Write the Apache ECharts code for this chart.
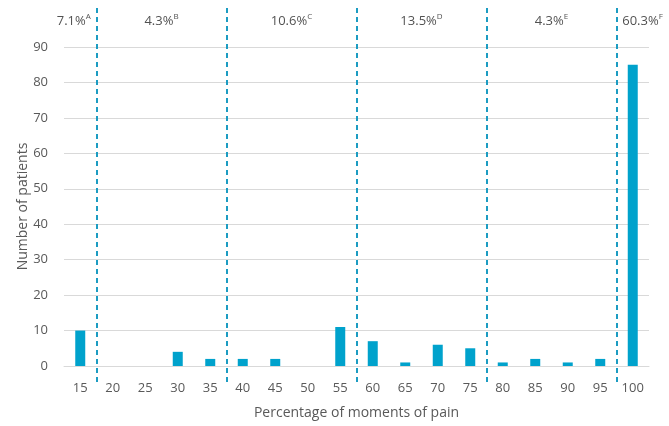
<!DOCTYPE html>
<html>
<head>
<meta charset="utf-8">
<script src="https://cdn.jsdelivr.net/npm/echarts@6/dist/echarts.min.js"></script>
<style>
  html, body { margin: 0; padding: 0; background: #fff; }
  #chart { width: 669px; height: 426px; }
</style>
</head>
<body>
<div id="chart"></div>
<script>
// percentage of moments of pain -> number of patients
var categories = ["15", "20", "25", "30", "35", "40", "45", "50", "55", "60", "65", "70", "75", "80", "85", "90", "95", "100"];
var patients = [10, 0, 0, 4, 2, 2, 2, 0, 11, 7, 1, 6, 5, 1, 2, 1, 2, 85];
var yTicks = [0, 10, 20, 30, 40, 50, 60, 70, 80, 90];

// group borders (between category indexes) and the group shares
var groupBorders = [0.5, 4.5, 8.5, 12.5, 16.5];
var groupCenters = [-0.2, 2.5, 6.5, 10.5, 14.5, 17.3];
var groupShares = ["7.1%", "4.3%", "10.6%", "13.5%", "4.3%", "60.3%"];
var groupLetters = ["A", "B", "C", "D", "E", "F"];

var font = "Open Sans";
var textGray = "#595959";
var blue = "#00a2cc";
var dashBlue = "#1c9cc2";

var myChart = echarts.init(document.getElementById("chart"));

var option = {
  animation: false,
  textStyle: { fontFamily: font },
  grid: [
    { left: 64, right: 20, top: 47, bottom: 60 },
    { left: 64, right: 20, top: 8, bottom: 44 }
  ],
  xAxis: [
    {
      type: "category",
      gridIndex: 0,
      data: categories,
      name: "Percentage of moments of pain",
      nameLocation: "middle",
      nameGap: 40,
      nameMoveOverlap: false,
      nameTextStyle: { color: textGray, fontSize: 14, fontFamily: font },
      axisLine: { lineStyle: { color: "#d9d9d9", width: 1 } },
      axisTick: { show: false },
      axisLabel: { color: textGray, fontSize: 13, margin: 16, fontFamily: font }
    },
    {
      type: "value",
      gridIndex: 1,
      min: -0.5,
      max: categories.length - 0.5,
      show: false
    }
  ],
  yAxis: [
    {
      type: "value",
      gridIndex: 0,
      min: yTicks[0],
      max: yTicks[yTicks.length - 1],
      interval: 10,
      name: "Number of patients",
      nameLocation: "middle",
      nameGap: 34,
      nameMoveOverlap: false,
      nameTextStyle: { color: textGray, fontSize: 14, fontFamily: font },
      axisLine: { show: false },
      axisTick: { show: false },
      axisLabel: { color: textGray, fontSize: 13, margin: 16, fontFamily: font },
      splitLine: { lineStyle: { color: "#d9d9d9", width: 1 } }
    },
    {
      type: "value",
      gridIndex: 1,
      min: 0,
      max: 100,
      show: false
    }
  ],
  series: [
    {
      type: "bar",
      xAxisIndex: 0,
      yAxisIndex: 0,
      data: patients,
      barWidth: 10,
      itemStyle: { color: blue }
    },
    {
      type: "scatter",
      xAxisIndex: 1,
      yAxisIndex: 1,
      symbolSize: 0,
      data: groupCenters.map(function (c) { return [c, 96.5]; }),
      label: {
        show: true,
        position: "inside",
        formatter: function (p) {
          return "{a|" + groupShares[p.dataIndex] + "}{s|" + groupLetters[p.dataIndex] + "}";
        },
        rich: {
          a: { fontSize: 13, color: "#262626", fontFamily: font, lineHeight: 16 },
          s: { fontSize: 8, color: "#262626", fontFamily: font, verticalAlign: "top", lineHeight: 16, padding: [0, 0, 5, 0] }
        }
      },
      markLine: {
        silent: true,
        symbol: "none",
        label: { show: false },
        lineStyle: { color: dashBlue, type: [5, 4], width: 2 },
        data: groupBorders.map(function (b) { return { xAxis: b }; })
      }
    }
  ]
};

myChart.setOption(option);
</script>
</body>
</html>
